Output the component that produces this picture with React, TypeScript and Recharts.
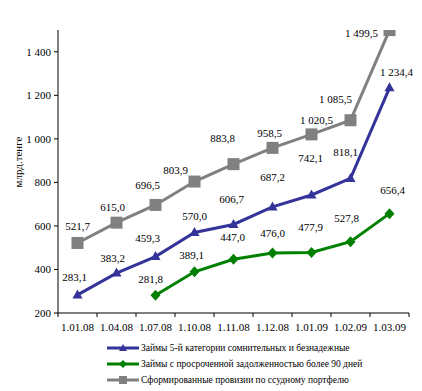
import React from "react";
import { LineChart, Line, XAxis, YAxis, Legend, LabelList, Label } from "recharts";

const categories = ["1.01.08", "1.04.08", "1.07.08", "1.10.08", "1.11.08", "1.12.08", "1.01.09", "1.02.09", "1.03.09"];
const loans5 = [283.1, 383.2, 459.3, 570.0, 606.7, 687.2, 742.1, 818.1, 1234.4];
const overdue90 = [null, null, 281.8, 389.1, 447.0, 476.0, 477.9, 527.8, 656.4];
const provisions = [521.7, 615.0, 696.5, 803.9, 883.8, 958.5, 1020.5, 1085.5, 1499.5];
const yTicks = [200, 400, 600, 800, 1000, 1200, 1400];

const seriesNames = {
  loans5: "Займы 5-й категории сомнительных и безнадежные",
  overdue90: "Займы с просроченной задолженностью более 90 дней",
  provisions: "Сформированные провизии по ссудному портфелю",
};

// label nudges (styling only)
const shiftLoans5 = [[-3, -18], [-4, -15], [-8, -19], [0, -16], [-2, -25], [0, -30], [-1, -37], [-5, -26], [7, -16]];
const shiftOverdue = [[0, 0], [0, 0], [-5, -16], [-3, -17], [-1, -22], [0, -20], [-1, -26], [-4, -24], [3, -24]];
const shiftProv = [[0, -17], [-4, -16], [-8, -20], [-19, -12], [-11, -26], [-3, -15], [5, -14], [-15, -21], [-28, 3]];

const data = categories.map((c, i) => ({
  cat: c,
  loans5: loans5[i],
  overdue90: overdue90[i],
  provisions: provisions[i],
}));

const W = 422;
const H = 391;
const M = { top: 30, right: 13, left: 0, bottom: 48 };
const YW = 58;
const BAND = (W - M.right - M.left - YW) / categories.length;

const FONT = "Liberation Serif, Times New Roman, serif";
const BLUE = "#333399";
const GREEN = "#008000";
const GRAY = "#808080";

const fmt = (v: number) => {
  const s = v.toFixed(1).replace(".", ",");
  const [int, dec] = s.split(",");
  const withSp = int.replace(/\B(?=(\d{3})+(?!\d))/g, " ");
  return withSp + "," + dec;
};
const fmtTick = (v: number) => String(v).replace(/\B(?=(\d{3})+(?!\d))/g, " ");

const Tri = (props: any) => {
  const { cx, cy, value, fill } = props;
  if (value == null || cx == null || cy == null) return null;
  return <path d={`M${cx},${cy - 5.5} L${cx + 5},${cy + 3.5} L${cx - 5},${cy + 3.5} Z`} fill={fill} />;
};
const Dia = (props: any) => {
  const { cx, cy, value, fill } = props;
  if (value == null || cx == null || cy == null) return null;
  return <path d={`M${cx},${cy - 5.5} L${cx + 5},${cy} L${cx},${cy + 5.5} L${cx - 5},${cy} Z`} fill={fill} />;
};
const Sq = (props: any) => {
  const { cx, cy, value, fill } = props;
  if (value == null || cx == null || cy == null) return null;
  return <rect x={cx - 6} y={cy - 6} width={12} height={12} fill={fill} />;
};

const makeLabel = (shift: number[][]) => (props: any) => {
  const { x, y, value, index } = props;
  if (value == null || x == null || y == null) return null;
  const [dx, dy] = shift[index] || [0, -16];
  return (
    <text x={x + dx} y={y + dy} textAnchor="middle" dominantBaseline="central" style={{ fontFamily: FONT, fontSize: 11 }} fill="#000">
      {fmt(Number(value))}
    </text>
  );
};

const XTick = (props: any) => {
  const { x, y, payload, index } = props;
  const last = index === categories.length - 1;
  return (
    <g>
      <line x1={x - BAND / 2} x2={x - BAND / 2} y1={y - 4} y2={y} stroke="#000" />
      {last && <line x1={x + BAND / 2} x2={x + BAND / 2} y1={y - 4} y2={y} stroke="#000" />}
      <text x={x} y={y + 10} textAnchor="middle" dominantBaseline="central" style={{ fontFamily: FONT, fontSize: 11 }} fill="#000">
        {payload.value}
      </text>
    </g>
  );
};

const legendItems = [
  { name: seriesNames.loans5, color: BLUE, shape: "tri" },
  { name: seriesNames.overdue90, color: GREEN, shape: "dia" },
  { name: seriesNames.provisions, color: GRAY, shape: "sq" },
];

const LegendContent = () => (
  <svg width={320} height={50} style={{ display: "block" }}>
    {legendItems.map((it, i) => {
      const cy = 8 + i * 16;
      return (
        <g key={i}>
          <line x1={7} x2={39} y1={cy} y2={cy} stroke={it.color} strokeWidth={3} />
          {it.shape === "tri" && <path d={`M23,${cy - 4} L27,${cy + 3} L19,${cy + 3} Z`} fill={it.color} />}
          {it.shape === "dia" && <path d={`M23,${cy - 4} L27,${cy} L23,${cy + 4} L19,${cy} Z`} fill={it.color} />}
          {it.shape === "sq" && <rect x={19} y={cy - 4} width={8} height={8} fill={it.color} />}
          <text x={41} y={cy} dominantBaseline="central" style={{ fontFamily: FONT, fontSize: 9.5 }} fill="#000">
            {it.name}
          </text>
        </g>
      );
    })}
  </svg>
);

export default function App() {
  return (
    <div style={{ position: "absolute", left: 0, top: 0, width: W, height: H, background: "#fff", fontFamily: FONT }}>
      <LineChart width={W} height={H} data={data} margin={M} style={{ fontFamily: FONT }}>
        <XAxis
          dataKey="cat"
          scale="band"
          tickLine={false}
          tickSize={4}
          tickMargin={0}
          height={30}
          axisLine={{ stroke: "#000" }}
          tick={<XTick />}
          interval={0}
        />
        <YAxis
          width={YW}
          domain={[200, 1500]}
          ticks={yTicks}
          allowDataOverflow
          tickSize={4}
          tickMargin={3}
          axisLine={{ stroke: "#000" }}
          tickLine={{ stroke: "#000" }}
          tick={{ fontFamily: FONT, fontSize: 11, fill: "#000", style: { fontFamily: FONT } }}
          tickFormatter={fmtTick}
        >
          <Label
            content={() => (
              <text transform="translate(18,162) rotate(-90)" textAnchor="middle" dominantBaseline="central" style={{ fontFamily: FONT, fontSize: 11 }} fill="#000">
                млрд.тенге
              </text>
            )}
          />
        </YAxis>
        <Legend
          layout="vertical"
          align="center"
          verticalAlign="middle"
          content={<LegendContent />}
          wrapperStyle={{ position: "absolute", left: 100, top: 340, width: 320, height: 50 }}
        />
        <Line
          dataKey="provisions"
          name={seriesNames.provisions}
          stroke={GRAY}
          strokeWidth={3}
          dot={<Sq fill={GRAY} />}
          activeDot={false}
          isAnimationActive={false}
        >
          <LabelList dataKey="provisions" content={makeLabel(shiftProv)} />
        </Line>
        <Line
          dataKey="loans5"
          name={seriesNames.loans5}
          stroke={BLUE}
          strokeWidth={3}
          dot={<Tri fill={BLUE} />}
          activeDot={false}
          isAnimationActive={false}
        >
          <LabelList dataKey="loans5" content={makeLabel(shiftLoans5)} />
        </Line>
        <Line
          dataKey="overdue90"
          name={seriesNames.overdue90}
          stroke={GREEN}
          strokeWidth={3}
          dot={<Dia fill={GREEN} />}
          activeDot={false}
          isAnimationActive={false}
        >
          <LabelList dataKey="overdue90" content={makeLabel(shiftOverdue)} />
        </Line>
      </LineChart>
    </div>
  );
}
